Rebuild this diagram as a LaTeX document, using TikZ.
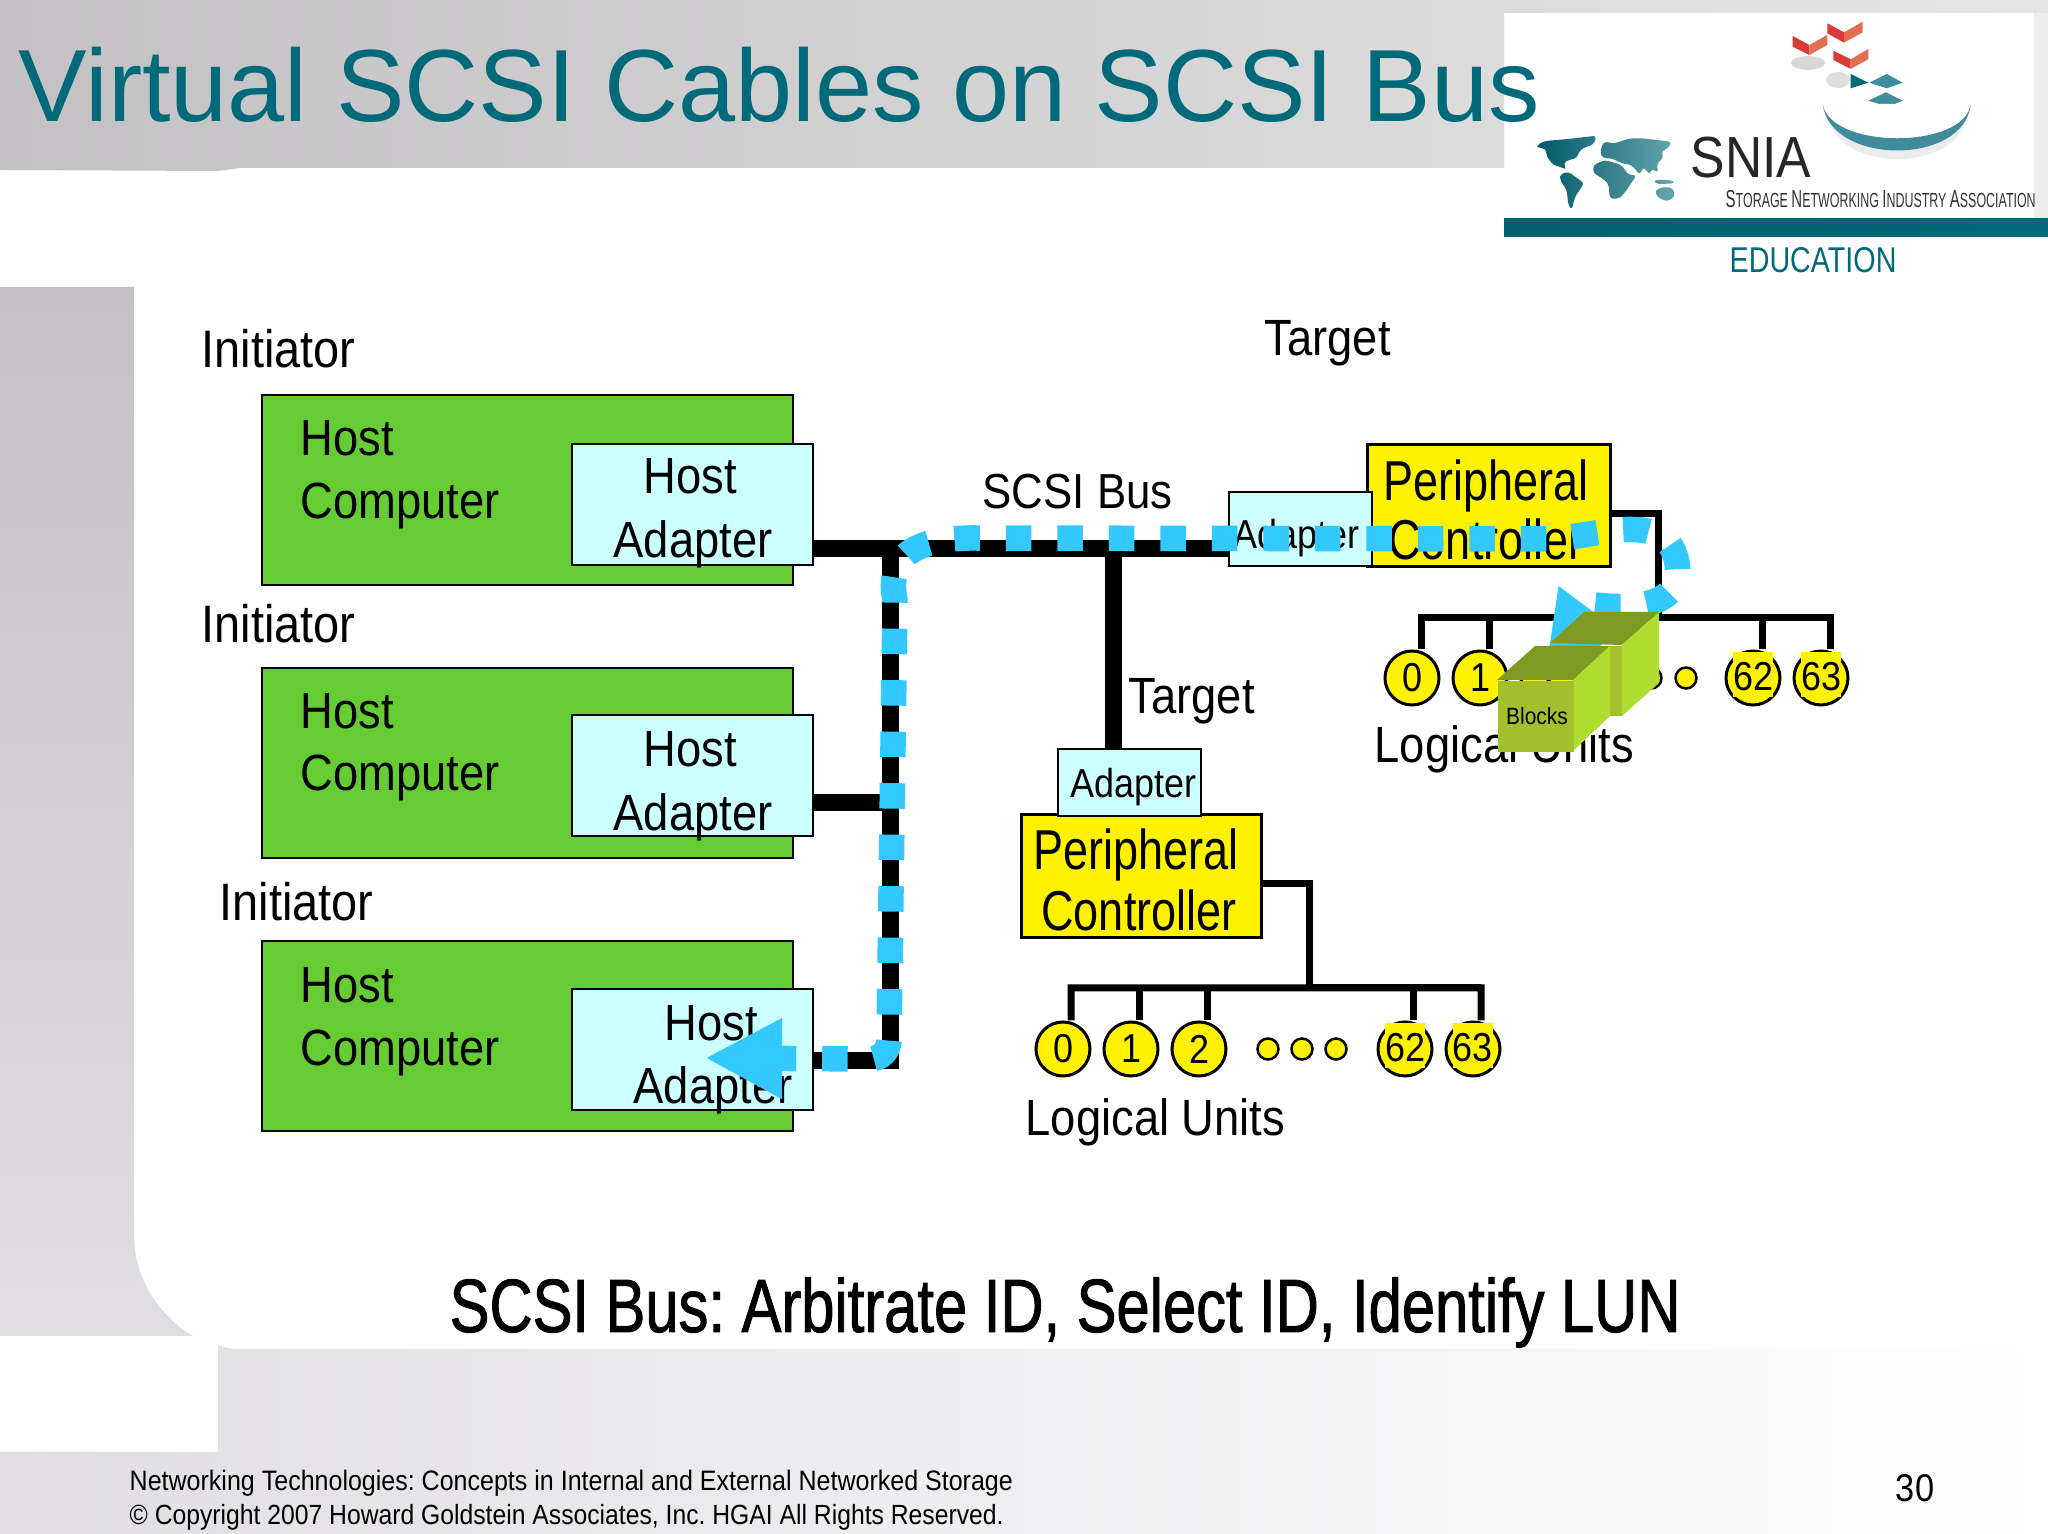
\documentclass[tikz,border=0pt]{standalone}
\usepackage{xcolor}
\usepackage{fontspec}
\usepackage{tikz}
\usetikzlibrary{arrows.meta, shapes.geometric, positioning}
\setmainfont{Liberation Sans}
\newfontfamily\slidefont[FakeStretch=.89]{Liberation Sans}
\newfontfamily\tallfont[FakeStretch=.8]{Liberation Sans}
\newfontfamily\capfont[FakeStretch=.79,FakeBold=1.2]{Liberation Sans}
\newfontfamily\logofont[FakeStretch=.61]{Liberation Sans}
\newcommand{\fsz}[2]{\fontsize{#1}{#2}\selectfont}
\definecolor{titleTeal}{HTML}{00697A}
\definecolor{panelDark}{HTML}{C3C1C3}
\definecolor{panelLight}{HTML}{E0DEE2}
\definecolor{hostGreen}{HTML}{66CC33}
\definecolor{adapterCyan}{HTML}{CCFFFF}
\definecolor{cableBlue}{HTML}{33C8FF}
\definecolor{logoRed}{HTML}{D93A3A}
\definecolor{logoOrange}{HTML}{E07050}
\definecolor{logoDisc}{HTML}{3E8C9C}
\definecolor{blockTop}{HTML}{7D9B22}
\definecolor{blockSide}{HTML}{AEDC30}
\definecolor{blockFront}{HTML}{A2C02C}

\begin{document}
\begin{tikzpicture}[y=-1cm,
    host/.style={draw, fill=hostGreen, line width=.02cm, anchor=north west, minimum width=5.31cm, minimum height=1.90cm},
    adapter/.style={draw, fill=adapterCyan, line width=.02cm, minimum width=2.41cm, minimum height=1.21cm},
    periph/.style={draw, fill=yellow, line width=.03cm},
    txt/.style={anchor=base west, inner sep=0pt, font=\slidefont\fsz{14.5}{17.9}, align=left},
    ctr/.style={anchor=base, inner sep=0pt, font=\slidefont\fsz{14.5}{17.9}, align=center},
    bus/.style={line width=.17cm},
    wire/.style={line width=.07cm},
    lun/.style={circle, draw, fill=yellow, line width=.03cm, minimum size=.54cm, inner sep=0pt, font=\slidefont\fsz{11.5}{12}},
    lunum/.style={anchor=base, fill=yellow, inner sep=0pt, minimum width=.36cm, text height=.39cm, text depth=.06cm, font=\slidefont\fsz{11.5}{12}},
    dot/.style={circle, draw, fill=yellow, line width=.025cm, minimum size=.21cm, inner sep=0pt},
    cable/.style={draw=cableBlue, line width=.255cm, dash pattern=on .255cm off .26cm},
]
    % slide background
    \useasboundingbox (0,0) rectangle (20.48,15.34);
    \fill[white] (0,0) rectangle (20.48,15.34);
    \shade[left color=panelDark, right color=gray!20] (0,0) -- (20.48,0) -- (20.48,.13) -- (15.04,.13) -- (15.04,1.68) -- (2.4,1.68) -- (2.18,1.71) -- (0,1.70) -- cycle;
    \fill[gray!14] (20.34,.13) rectangle (20.48,2.19);
    \shade[top color=panelDark, bottom color=panelLight] (0,2.87) -- (1.34,2.87) -- (1.34,12.4) .. controls (1.36,12.85) and (1.65,13.2) .. (1.93,13.36) -- (0,13.36) -- cycle;
    \shade[left color=panelLight, right color=white] (0,14.52) -- (2.18,14.52) -- (2.18,13.45) .. controls (2.3,13.49) .. (2.5,13.49) -- (20.48,13.49) -- (20.48,15.34) -- (0,15.34) -- cycle;
    \shade[left color=titleTeal!90!black, right color=titleTeal] (15.04,2.19) rectangle (20.48,2.37);

    \node[anchor=base west, inner sep=0pt, text=titleTeal, font=\fsz{29.2}{32}] (title) at (.18,1.22) {Virtual SCSI Cables on SCSI Bus};

    % logo
    \shade[left color=titleTeal!85!black, right color=titleTeal!60!white, rounded corners=1pt]
        (15.367,1.45) -- (15.45,1.41) -- (15.683,1.39) -- (15.967,1.357) -- (15.933,1.45) -- (15.883,1.457) -- (15.8,1.5) -- (15.767,1.583) -- (15.683,1.6) -- (15.633,1.633) -- (15.667,1.7) -- (15.6,1.667) -- (15.533,1.65) -- (15.467,1.567) -- (15.457,1.483) -- (15.383,1.483) -- cycle
        (15.6,1.743) -- (15.683,1.717) -- (15.843,1.833) -- (15.75,1.967) -- (15.717,2.1) -- (15.683,2.05) -- (15.667,1.9) -- (15.6,1.8) -- cycle
        (15.933,1.65) -- (16.05,1.6) -- (16.217,1.65) -- (16.283,1.75) -- (16.367,1.75) -- (16.267,1.9) -- (16.2,1.983) -- (16.1,1.99) -- (16.083,1.833) -- (16,1.767) -- (15.933,1.733) -- cycle
        (16,1.533) -- (16.033,1.417) -- (16.15,1.433) -- (16.3,1.383) -- (16.417,1.383) -- (16.717,1.417) -- (16.667,1.5) -- (16.617,1.5) -- (16.633,1.583) -- (16.567,1.633) -- (16.583,1.733) -- (16.517,1.683) -- (16.5,1.75) -- (16.433,1.667) -- (16.4,1.75) -- (16.317,1.65) -- (16.217,1.633) -- (16.117,1.583) -- (16.033,1.583) -- cycle
        (16.533,1.8) -- (16.717,1.8) -- (16.75,1.833) -- (16.567,1.843) -- cycle
        (16.55,1.9) -- (16.65,1.867) -- (16.733,1.883) -- (16.75,1.967) -- (16.667,2.017) -- (16.567,1.967) -- cycle;
    \fill[gray!30] (18.08,.63) ellipse (.17 and .07);
    \fill[gray!25] (18.38,.80) ellipse (.12 and .08);
    \fill[logoRed] (17.927,.36) -- (18.093,.45) -- (18.093,.55) -- (17.927,.467) -- cycle;
    \fill[logoOrange] (18.093,.45) -- (18.273,.35) -- (18.273,.45) -- (18.093,.55) -- cycle;
    \fill[logoRed] (18.273,.233) -- (18.44,.323) -- (18.44,.427) -- (18.273,.333) -- cycle;
    \fill[logoOrange] (18.44,.323) -- (18.627,.217) -- (18.627,.323) -- (18.44,.427) -- cycle;
    \fill[logoRed] (18.333,.507) -- (18.507,.593) -- (18.507,.69) -- (18.333,.6) -- cycle;
    \fill[logoOrange] (18.507,.593) -- (18.683,.49) -- (18.683,.593) -- (18.507,.69) -- cycle;
    \fill[titleTeal] (18.507,.74) -- (18.683,.827) -- (18.507,.883) -- cycle;
    \fill[logoDisc] (18.693,.827) -- (18.867,.74) -- (19.027,.827) -- (18.867,.883) -- cycle;
    \fill[logoDisc] (18.683,1.007) -- (18.86,.923) -- (19.027,1.007) -- (18.88,1.067) -- cycle;
    \fill[gray!15] (18.3,1.2) .. controls (18.4,1.72) and (19.55,1.72) .. (19.65,1.2) -- cycle;
    \fill[white] (18.227,1.04) .. controls (18.3,1.497) and (19.65,1.497) .. (19.707,1.04) -- cycle;
    \fill[logoDisc] (18.227,1.04) .. controls (18.3,1.66) and (19.65,1.66) .. (19.707,1.04) .. controls (19.65,1.497) and (18.3,1.497) .. cycle;
    \node[anchor=base west, inner sep=0pt, text=black!85, font=\slidefont\fsz{16.5}{18}] (snia) at (16.90,1.78) {SNIA};
    \node[anchor=base west, inner sep=0pt, text=black!80, font=\logofont\fsz{5.8}{8}] (snia2) at (17.25,2.08) {{\fsz{7}{8}S}TORAGE {\fsz{7}{8}N}ETWORKING {\fsz{7}{8}I}NDUSTRY {\fsz{7}{8}A}SSOCIATION};
    \node[anchor=base west, inner sep=0pt, text=titleTeal, font=\tallfont\fsz{10.2}{12}] (edu) at (17.29,2.73) {EDUCATION};

    \node[txt, font=\slidefont\fsz{15}{18}] (ini1) at (2.01,3.68) {Initiator};
    \node[txt, font=\slidefont\fsz{15}{18}] (ini2) at (2.01,6.43) {Initiator};
    \node[txt, font=\slidefont\fsz{15}{18}] (ini3) at (2.19,9.21) {Initiator};
    \node[txt] (tgt1) at (12.64,3.56) {Target};
    \node[txt] (tgt2) at (11.28,7.14) {Target};
    \node[txt, font=\slidefont\fsz{14}{17}] (busl) at (9.82,5.09) {SCSI Bus};

    \coordinate (busj) at (8.90,5.49);
    \coordinate (busv) at (8.90,8.03);
    \coordinate (busk) at (8.90,10.61);
    \coordinate (bust) at (11.13,5.49);

    \node[host] (hc1) at (2.61,3.94) {};
    \node[host] (hc2) at (2.61,6.67) {};
    \node[host] (hc3) at (2.61,9.40) {};
    \node[adapter] (ha1) at (6.925,5.045) {};
    \node[adapter] (ha2) at (6.925,7.76) {};
    \node[adapter] (ha3) at (6.925,10.495) {};
    \node[periph, minimum width=2.43cm, minimum height=1.22cm] (pc1) at (14.885,5.06) {};
    \node[adapter, minimum width=1.43cm, minimum height=.74cm] (ta1) at (13.005,5.29) {};
    \node[periph, minimum width=2.40cm, minimum height=1.23cm] (pc2) at (11.41,8.765) {};
    \node[adapter, minimum width=1.43cm, minimum height=.67cm] (ta2) at (11.295,7.825) {};

    \draw[bus] (ha1.east |- busj) -- (ta1.west |- busj);
    \draw[bus] (busj) -- (busk) -- (ha3.east |- busk);
    \draw[bus] (ha2.east |- busv) -- (busv);
    \draw[bus] (bust) -- (bust |- ta2.north);

    \node[txt] at (3.0,4.56) {Host};
    \node[txt] at (3.0,5.19) {Computer};
    \node[txt] at (3.0,7.29) {Host};
    \node[txt] at (3.0,7.91) {Computer};
    \node[txt] at (3.0,10.03) {Host};
    \node[txt] at (3.0,10.66) {Computer};
    \node[ctr] at (6.90,4.94) {Host};
    \node[ctr] at (6.93,5.58) {Adapter};
    \node[ctr] at (6.90,7.67) {Host};
    \node[ctr] at (6.93,8.31) {Adapter};
    \node[ctr] at (7.11,10.41) {Host};
    \node[ctr] at (7.13,11.04) {Adapter};
    \node[ctr, font=\slidefont\fsz{11.5}{12}] at (12.96,5.49) {Adapter};
    \node[ctr, font=\slidefont\fsz{11.5}{12}] at (11.33,7.98) {Adapter};
    \node[ctr, font=\tallfont\fsz{16}{18}] at (14.86,5.01) {Peripheral};
    \node[ctr, font=\tallfont\fsz{16}{18}] at (14.86,5.60) {Controller};
    \node[ctr, font=\tallfont\fsz{16}{18}] at (11.36,8.70) {Peripheral};
    \node[ctr, font=\tallfont\fsz{16}{18}] at (11.39,9.31) {Controller};

    % logical units, target on the right
    \coordinate (tr1) at (16.58,5.14);
    \coordinate (bar1) at (18.30,6.18);
    \node[lun] (lu10) at (14.12,6.78) {0};
    \node[lun] (lu11) at (14.80,6.78) {1};
    \node[lun] (lu12) at (15.48,6.78) {2};
    \node[dot] (d11) at (16.17,6.78) {};
    \node[dot] (d12) at (16.51,6.78) {};
    \node[dot] (d13) at (16.86,6.78) {};
    \node[lun] (lu162) at (17.53,6.78) {};
    \node[lun] (lu163) at (18.21,6.78) {};
    \node[lunum] at ([yshift=-.13cm]lu162.center) {62};
    \node[lunum] at ([yshift=-.13cm]lu163.center) {63};
    \draw[wire] (pc1.east |- tr1) -- (tr1) |- (bar1);
    \draw[wire] ([xshift=.09cm]lu10.north) |- (bar1) -- ([xshift=.09cm]lu163.north);
    \draw[wire] ([xshift=.09cm]lu11.north) -- ([xshift=.09cm]lu11.north |- bar1);
    \draw[wire] ([xshift=.09cm]lu12.north) -- ([xshift=.09cm]lu12.north |- bar1);
    \draw[wire] ([xshift=.09cm]lu162.north) -- ([xshift=.09cm]lu162.north |- bar1);
    \node[txt] (lul1) at (13.74,7.63) {Logical Units};

    % logical units, target below
    \coordinate (tr2) at (13.09,8.84);
    \coordinate (bar2) at (14.81,9.88);
    \node[lun] (lu20) at (10.63,10.49) {0};
    \node[lun] (lu21) at (11.31,10.49) {1};
    \node[lun] (lu22) at (11.99,10.49) {2};
    \node[dot] (d21) at (12.68,10.49) {};
    \node[dot] (d22) at (13.02,10.49) {};
    \node[dot] (d23) at (13.36,10.49) {};
    \node[lun] (lu262) at (14.05,10.49) {};
    \node[lun] (lu263) at (14.73,10.49) {};
    \node[lunum] at ([yshift=-.13cm]lu262.center) {62};
    \node[lunum] at ([yshift=-.13cm]lu263.center) {63};
    \draw[wire] (pc2.east |- tr2) -- (tr2) |- (bar2);
    \draw[wire] ([xshift=.08cm]lu20.north) |- (bar2) -- ([xshift=.08cm]lu263.north);
    \draw[wire] ([xshift=.08cm]lu21.north) -- ([xshift=.08cm]lu21.north |- bar2);
    \draw[wire] ([xshift=.08cm]lu22.north) -- ([xshift=.08cm]lu22.north |- bar2);
    \draw[wire] ([xshift=.08cm]lu262.north) -- ([xshift=.08cm]lu262.north |- bar2);
    \node[txt] (lul2) at (10.25,11.36) {Logical Units};

    % virtual cable
    \coordinate (cab1) at (7.05,10.58);
    \coordinate (cab2) at (15.45,6.72);
    \draw[cable, dash phase=.065cm, {Triangle[length=.77cm,width=.75cm]}-{Triangle[length=.77cm,width=.75cm]}]
        (cab1) -- (8.69,10.59) .. controls (8.81,10.59) and (8.89,10.51) .. (8.89,10.39) -- (8.95,6.0)
        .. controls (8.87,5.6) and (9.1,5.39) .. (9.7,5.38) -- (15.5,5.39)
        .. controls (15.9,5.38) and (16.6,5.10) .. (16.75,5.55)
        .. controls (16.88,5.95) and (16.55,6.12) .. (15.95,6.05) -- (cab2);

    % blocks
    \fill[blockTop] (15.50,6.43) -- (15.84,6.12) -- (16.59,6.12) -- (16.22,6.45) -- cycle;
    \fill[blockSide] (16.22,6.45) -- (16.59,6.12) -- (16.59,6.83) -- (16.22,7.16) -- cycle;
    \fill[blockFront] (16.10,6.46) -- (16.22,6.46) -- (16.22,7.16) -- (16.10,7.16) -- cycle;
    \fill[blockTop] (14.97,6.80) -- (15.35,6.46) -- (16.10,6.46) -- (15.73,6.80) -- cycle;
    \fill[blockSide] (15.73,6.80) -- (16.10,6.46) -- (16.10,7.16) -- (15.73,7.51) -- cycle;
    \node[fill=blockFront, anchor=north west, minimum width=.76cm, minimum height=.71cm, inner sep=0pt] (blk) at (14.97,6.80) {};
    \node[anchor=base, inner sep=0pt, font=\slidefont\fsz{6.7}{8}] at (15.37,7.25) {Blocks};

    \node[anchor=base west, inner sep=0pt, font=\capfont\fsz{21.5}{24}\frenchspacing] (cap) at (4.49,13.32) {SCSI Bus: Arbitrate ID, Select ID, Identify LUN};
    \node[anchor=base west, inner sep=0pt, font=\slidefont\fsz{8}{10}\frenchspacing] (ft1) at (1.29,14.91) {Networking Technologies: Concepts in Internal and External Networked Storage};
    \node[anchor=base west, inner sep=0pt, font=\slidefont\fsz{7.9}{10}\frenchspacing] (ft2) at (1.29,15.25) {© Copyright 2007 Howard Goldstein Associates, Inc. HGAI All Rights Reserved.};
    \node[anchor=base, inner sep=0pt, font=\slidefont\fsz{11}{12}] (pg) at (19.15,15.02) {30};
\end{tikzpicture}
\end{document}
